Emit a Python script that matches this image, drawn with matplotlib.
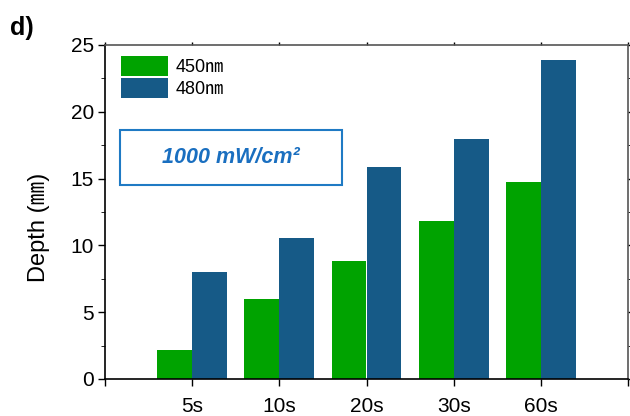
import matplotlib
matplotlib.use("Agg")
import matplotlib.pyplot as plt
from matplotlib.patches import Patch, Rectangle
import numpy as np

categories = ["5s", "10s", "20s", "30s", "60s"]
depth_450 = [2.15, 6.0, 8.85, 11.8, 14.75]
depth_480 = [8.0, 10.55, 15.85, 18.0, 23.9]
series_names = ["450㎚", "480㎚"]
colors = ["#00a300", "#165a87"]

plt.rcParams['font.family'] = ['Liberation Sans', 'Noto Sans CJK SC', 'DejaVu Sans']

fig = plt.figure(figsize=(6.3, 4.16), dpi=100)
ax = fig.add_axes([105/630, 1-379/416, 523/630, 334/416])

x = np.arange(1, len(categories) + 1)
w = 0.4
ax.bar(x - w/2, depth_450, width=w, color=colors[0], edgecolor="none")
ax.bar(x + w/2, depth_480, width=w, color=colors[1], edgecolor="none")

ax.set_xlim(0, 6)
ax.set_ylim(0, 25)
ax.set_xticks(np.arange(0, 7))
ax.set_xticklabels([""] + categories + [""])
ax.set_yticks(np.arange(0, 26, 5))
ax.set_yticks(np.arange(0, 25.1, 2.5), minor=True)
ax.tick_params(axis='both', which='major', labelsize=15, direction='out', length=5, width=1, colors='black')
ax.tick_params(axis='x', pad=8)
ax.tick_params(axis='y', pad=3)
ax.tick_params(axis='y', which='minor', length=3, direction='out')
ax.tick_params(axis='x', which='major', top=True)
ax.tick_params(axis='y', which='both', right=True)
for t in ax.xaxis.get_major_ticks():
    t.tick2line.set_markersize(2)
for t in ax.yaxis.get_major_ticks() + ax.yaxis.get_minor_ticks():
    t.tick2line.set_markersize(2)
for s in ax.spines.values():
    s.set_linewidth(1.2)
ax.spines['top'].set_color('#555555')
ax.spines['right'].set_color('#555555')

ax.set_ylabel("Depth (㎜)", fontsize=17)
ax.yaxis.set_label_coords(-0.105, 0.455)

handles = [Patch(facecolor=c, edgecolor='none') for c in colors]
leg = ax.legend(handles, series_names, loc='upper left', bbox_to_anchor=(0.01, 1.0),
                frameon=False, fontsize=13, handlelength=2.6, handleheight=1.3,
                labelspacing=0.15, handletextpad=0.4, borderaxespad=0.2)

rect = Rectangle((0.0287, 0.581), 0.424, 0.165, transform=ax.transAxes,
                 fill=False, edgecolor="#1f7ac4", linewidth=1.5)
ax.add_patch(rect)
ax.text(0.0287 + 0.212, 0.581 + 0.0825, "1000 mW/cm²", transform=ax.transAxes,
        ha='center', va='center', fontsize=15.5, fontweight='bold', style='italic',
        color="#1a6fc0")

fig.text(10/630, 1-28/416, "d)", fontsize=18, fontweight='bold', va='center', ha='left')

fig.savefig("out.png", dpi=100)
